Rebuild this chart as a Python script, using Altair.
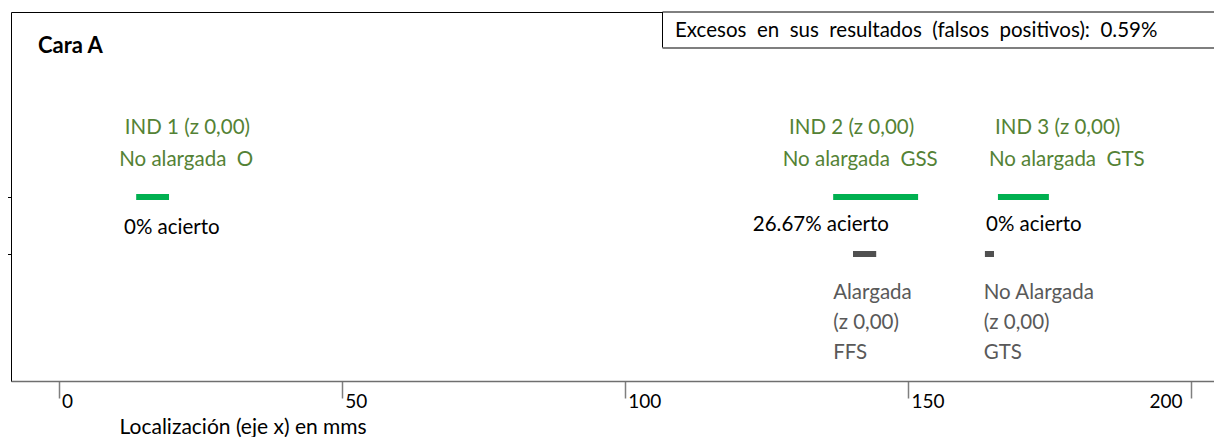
import altair as alt
import pandas as pd

# ---------------- data ----------------
ind_labels = ["IND 1 (z 0,00)", "IND 2 (z 0,00)", "IND 3 (z 0,00)"]
ind_types = ["No alargada\u00a0 O", "No alargada\u00a0 GSS", "No alargada\u00a0 GTS"]
green_start = [13.7, 136.8, 165.9]
green_end = [19.5, 151.8, 174.9]
acierto = ["0% acierto", "26.67% acierto", "0% acierto"]
gray_start = [140.3, 163.6]
gray_end = [144.4, 165.2]
gray_line1 = ["Alargada", "No Alargada"]
gray_line2 = ["(z 0,00)", "(z 0,00)"]
gray_line3 = ["FFS", "GTS"]
x_ticks = [0, 50, 100, 150, 200]
panel_title = "Cara A"
excess_text = "Excesos\u00a0 en\u00a0 sus\u00a0 resultados\u00a0 (falsos\u00a0 positivos):\u00a0 0.59%"
x_title = "Localización (eje x) en mms"

# ---------------- layout ----------------
W, H = 1203, 369
FONT = "Lato"
FS = 20.5
GREEN_TXT = "#548235"
GREEN_BAR = "#00B050"
GRAY_TXT = "#595959"
GRAY_BAR = "#505050"

ind_label_x = [11.7, 129.0, 165.4]
ind_type_x = [10.7, 127.9, 164.3]
acierto_x = [11.55, 122.6, 163.8]
acierto_y = [216, 213, 213]
gray_text_x = [136.8, 163.4]
Y_LABEL1, Y_LABEL2, Y_GREEN, Y_GRAY = 116, 148, 185, 242
Y_GRAY_TXT = [281, 311, 341]

xscale = alt.Scale(domain=[-8.41, 204.06], nice=False, zero=False)
yscale = alt.Scale(domain=[0, H], reverse=True, nice=False, zero=False)

green_df = pd.DataFrame({"x": green_start, "x2": green_end, "y": [Y_GREEN] * 3})
gray_df = pd.DataFrame({"x": gray_start, "x2": gray_end, "y": [Y_GRAY] * 2})

green_txt_df = pd.DataFrame({
    "x": ind_label_x + ind_type_x,
    "y": [Y_LABEL1] * 3 + [Y_LABEL2] * 3,
    "text": ind_labels + ind_types,
})
black_txt_df = pd.DataFrame({"x": acierto_x, "y": acierto_y, "text": acierto})
gray_txt_df = pd.DataFrame({
    "x": gray_text_x * 3,
    "y": [Y_GRAY_TXT[0]] * 2 + [Y_GRAY_TXT[1]] * 2 + [Y_GRAY_TXT[2]] * 2,
    "text": gray_line1 + gray_line2 + gray_line3,
})

x_axis = alt.Axis(
    values=x_ticks,
    title=x_title,
    grid=False,
    domainColor="#6f6f6f",
    domainWidth=1.5,
    tickColor="#7f7f7f",
    tickWidth=1.5,
    tickSize=17,
    labelFont=FONT,
    labelFontSize=19,
    labelColor="#000000",
    labelBaseline="top",
    labelPadding=-6,
    labelAlign={"condition": {"test": "datum.value == 200", "value": "right"}, "value": "left"},
    labelOffset={"condition": {"test": "datum.value == 200", "value": -9}, "value": 3},
    labelFlush=False,
    labelOverlap=False,
    titleFont=FONT,
    titleFontSize=21,
    titleFontWeight="normal",
    titleColor="#000000",
    titleAlign="left",
    titleBaseline="alphabetic",
    titleX=108,
    titleY=52,
)
y_axis = alt.Axis(
    values=[Y_GREEN, Y_GRAY],
    labels=False,
    title=None,
    grid=False,
    domain=False,
    tickSize=11,
    tickColor="#000000",
    tickWidth=1,
)

X = alt.X("x:Q", scale=xscale, axis=x_axis)
Y = alt.Y("y:Q", scale=yscale, axis=y_axis)

green_bars = alt.Chart(green_df).mark_rule(strokeWidth=6, color=GREEN_BAR, strokeCap="butt").encode(
    x=X, x2="x2:Q", y=Y,
)
gray_bars = alt.Chart(gray_df).mark_rule(strokeWidth=6, color=GRAY_BAR, strokeCap="butt").encode(
    x=X, x2="x2:Q", y=Y,
)

def text_layer(df, color):
    return alt.Chart(df).mark_text(
        font=FONT, fontSize=FS, color=color, align="left", baseline="middle"
    ).encode(x=X, y=Y, text="text:N")

green_txt = text_layer(green_txt_df, GREEN_TXT)
black_txt = text_layer(black_txt_df, "#000000")
gray_txt = text_layer(gray_txt_df, GRAY_TXT)

excess_box = alt.Chart().mark_rect(fill="white", stroke="#000000", strokeWidth=1).encode(
    x=alt.value(651.5), x2=alt.value(W + 10), y=alt.value(0), y2=alt.value(35.5)
)
excess_shadow = alt.Chart().mark_rule(color="#7f7f7f", strokeWidth=2).encode(
    x=alt.value(651.5), x2=alt.value(W + 10), y=alt.value(36)
)
excess_label = alt.Chart().mark_text(
    font=FONT, fontSize=FS, color="#000000", align="left", baseline="middle"
).encode(x=alt.value(664), y=alt.value(19), text=alt.value(excess_text))

title_label = alt.Chart().mark_text(
    font=FONT, fontSize=22, fontWeight="bold", color="#000000", align="left", baseline="middle"
).encode(x=alt.value(27), y=alt.value(34), text=alt.value(panel_title))

chart = alt.layer(
    green_bars, gray_bars, green_txt, black_txt, gray_txt,
    excess_box, excess_shadow, excess_label, title_label,
).properties(
    width=W,
    height=H,
    autosize=alt.AutoSizeParams(type="none"),
    padding={"left": 3, "top": 4, "right": 0, "bottom": 56},
).configure(
    font=FONT
).configure_view(
    stroke="#000000", strokeWidth=1
)

chart.save("out.html", embed_options={"renderer": "svg", "actions": False})
